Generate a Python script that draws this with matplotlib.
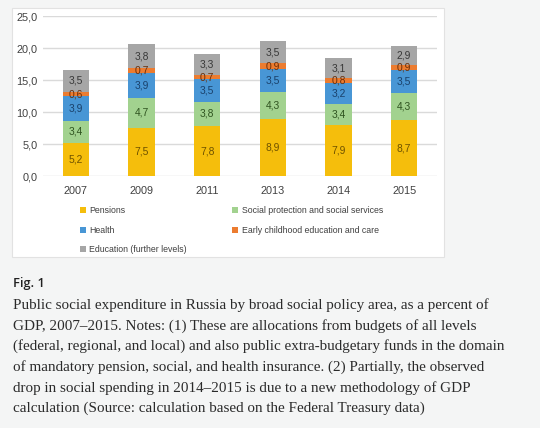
import matplotlib
matplotlib.use("Agg")
import matplotlib.pyplot as plt
from matplotlib.patches import Rectangle, Patch

years = ["2007", "2009", "2011", "2013", "2014", "2015"]
series_names = ["Pensions", "Social protection and social services", "Health",
                "Early childhood education and care", "Education (further levels)"]
pensions = [5.2, 7.5, 7.8, 8.9, 7.9, 8.7]
social = [3.4, 4.7, 3.8, 4.3, 3.4, 4.3]
health = [3.9, 3.9, 3.5, 3.5, 3.2, 3.5]
early = [0.6, 0.7, 0.7, 0.9, 0.8, 0.9]
education = [3.5, 3.8, 3.3, 3.5, 3.1, 2.9]
yticks = [0, 5, 10, 15, 20, 25]

series = [pensions, social, health, early, education]
colors = ["#F5BE0C", "#A2D28F", "#4896D5", "#EC7C30", "#A6A6A6"]
text_colors = ["#6E5200", "#2F5420", "#1A416B", "#6A2E08", "#383838"]

caption = ("Public social expenditure in Russia by broad social policy area, as a percent of\n"
           "GDP, 2007\u20132015. Notes: (1) These are allocations from budgets of all levels\n"
           "(federal, regional, and local) and also public extra-budgetary funds in the domain\n"
           "of mandatory pension, social, and health insurance. (2) Partially, the observed\n"
           "drop in social spending in 2014\u20132015 is due to a new methodology of GDP\n"
           "calculation (Source: calculation based on the Federal Treasury data)")

W, H = 540, 428
fig = plt.figure(figsize=(W / 100, H / 100), dpi=100)
fig.patch.set_facecolor("#F4F5F5")

# white chart box
box = Rectangle((12 / W, 1 - 257 / H), (444 - 12) / W, (257 - 8) / H,
                transform=fig.transFigure, facecolor="white",
                edgecolor="#E2E2E2", linewidth=0.8, zorder=-10)
fig.patches.append(box)

ax = fig.add_axes([43 / W, 1 - 176 / H, (437 - 43) / W, (176 - 16) / H], zorder=2)
ax.set_facecolor("none")
x = list(range(len(years)))
bottom = [0.0] * len(years)
handles = []
for vals, col, tcol, name in zip(series, colors, text_colors, series_names):
    bars = ax.bar(x, vals, width=0.4, bottom=bottom, color=col, zorder=3, label=name)
    ax.bar_label(bars, labels=[f"{v:.1f}".replace(".", ",") for v in vals],
                 label_type="center", color=tcol, fontsize=7.4,
                 family="Liberation Sans", zorder=4)
    bottom = [b + v for b, v in zip(bottom, vals)]
    handles.append(Patch(facecolor=col, label=name))

ax.set_xlim(-0.5, len(years) - 0.5)
ax.set_ylim(0, 25)
ax.set_yticks(yticks)
ax.set_yticklabels([f"{v:.1f}".replace(".", ",") for v in yticks])
ax.set_xticks(x)
ax.set_xticklabels(years)
ax.tick_params(length=0, labelsize=7.8, labelcolor="#404040")
ax.tick_params(axis="x", pad=7)
ax.tick_params(axis="y", pad=4)
for lab in ax.get_xticklabels() + ax.get_yticklabels():
    lab.set_family("Liberation Sans")
for s in ax.spines.values():
    s.set_visible(False)
ax.grid(axis="y", color="#DADADA", linewidth=1.0, zorder=0)
ax.set_axisbelow(True)

order = [0, 2, 4, 1, 3]
leg = fig.legend([handles[i] for i in order], [series_names[i] for i in order],
                 ncol=2, loc="upper left", bbox_to_anchor=(80 / W, 1 - 206 / H),
                 frameon=False, prop={"family": "Liberation Sans", "size": 6.3},
                 handlelength=0.7, handleheight=0.7, handletextpad=0.35,
                 columnspacing=5.2, labelspacing=1.22, borderpad=0, borderaxespad=0)
for t in leg.get_texts():
    t.set_color("#404040")

fig.text(13 / W, 1 - 283 / H, "Fig. 1", family="Open Sans", fontsize=9.2,
         color="#222222", va="center", ha="left", fontweight="semibold")
fig.text(13 / W, 1 - 298 / H, caption, family="Liberation Serif", fontsize=10.9,
         color="#2A2A2A", va="top", ha="left", linespacing=1.63)

fig.savefig("out.png", dpi=100, facecolor=fig.get_facecolor())
